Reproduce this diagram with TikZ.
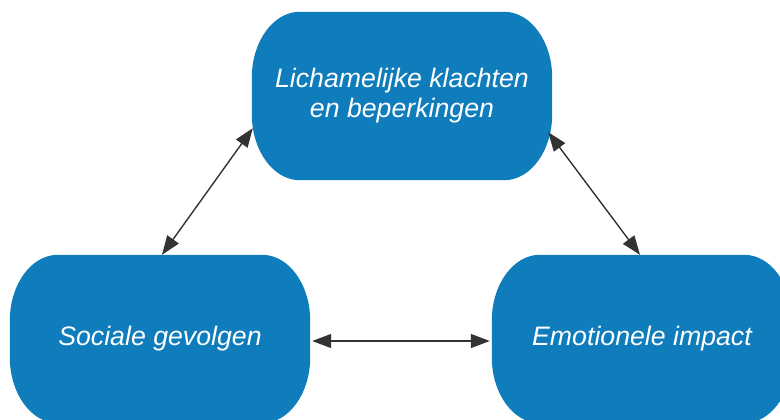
\documentclass[tikz,border=0pt]{standalone}
\usepackage{fontspec}
\setmainfont{Liberation Sans}
\usetikzlibrary{arrows.meta,backgrounds}
\definecolor{boxblue}{RGB}{15,124,187}
\definecolor{arrowgray}{RGB}{51,51,51}
\newcommand\drawpill[1]{%
  \fill[boxblue] ([xshift=48pt]#1.north west) -- ([xshift=-48pt]#1.north east)
    arc[start angle=90,end angle=0,x radius=48pt,y radius=66pt]
    -- ([yshift=66pt]#1.south east)
    arc[start angle=0,end angle=-90,x radius=48pt,y radius=66pt]
    -- ([xshift=48pt]#1.south west)
    arc[start angle=270,end angle=180,x radius=48pt,y radius=66pt]
    -- ([yshift=-66pt]#1.north west)
    arc[start angle=180,end angle=90,x radius=48pt,y radius=66pt]
    -- cycle;}
\tikzset{
  pill/.style={rectangle,draw=none,minimum width=300pt,minimum height=168pt,inner sep=0pt,
    text=white,align=center,font=\itshape\fontsize{26.7}{31}\selectfont},
  link/.style={draw=arrowgray,line width=1.4pt,
    {Triangle[length=19pt,width=14pt]}-{Triangle[length=19pt,width=14pt]}}
}
\begin{document}
\begin{tikzpicture}[x=1pt,y=-1pt]
\clip (0,0) rectangle (780,420);
\node[pill] (top) at (402,96) {\raisebox{-2pt}{Lichamelijke klachten}\\[-1pt]\raisebox{-2pt}{en beperkingen}};
\node[pill] (sl) at (160,339) {\raisebox{-2pt}{Sociale gevolgen}};
\node[pill] (em) at (642,339) {\raisebox{-2pt}{Emotionele impact}};
\begin{scope}[on background layer]
\drawpill{top}
\drawpill{sl}
\drawpill{em}
\end{scope}
\draw[link] ([xshift=2pt]sl.north) -- ([xshift=1pt,yshift=52pt]top.south west);
\draw[link] ([xshift=-4pt,yshift=48pt]top.south east) -- ([xshift=-2pt]em.north);
\draw[link] ([xshift=2pt,yshift=-2pt]sl.east) -- ([xshift=-2pt,yshift=-2pt]em.west);
\end{tikzpicture}
\end{document}
